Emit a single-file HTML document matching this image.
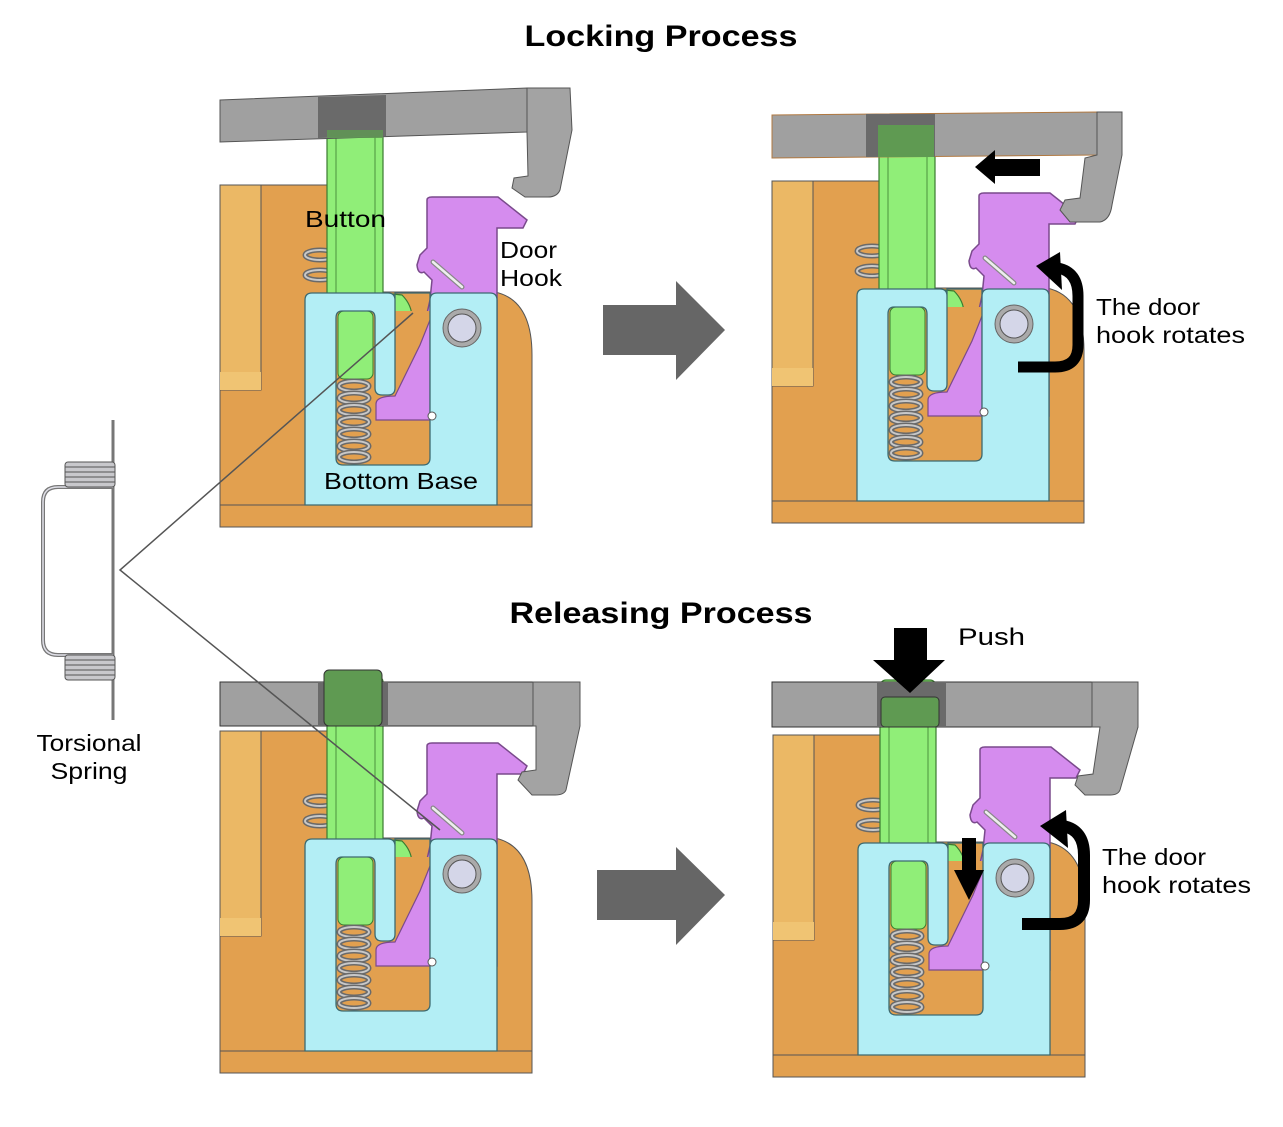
<!DOCTYPE html>
<html><head><meta charset="utf-8"><style>
html,body{margin:0;padding:0;background:#fff;}
svg{display:block;}
text{font-family:"Liberation Sans","DejaVu Sans",sans-serif;fill:#000;}
</style></head><body>
<svg width="1283" height="1127" viewBox="0 0 1283 1127" xmlns="http://www.w3.org/2000/svg">
<defs>
<g id="coil">
  <ellipse cx="0" cy="0" rx="15" ry="5" fill="none" stroke="#6a6a6a" stroke-width="5"/>
  <ellipse cx="0" cy="0" rx="15" ry="5" fill="none" stroke="#c8c8c8" stroke-width="2"/>
</g>
<g id="mech">
  <path d="M220,185 H330 V292 H495 Q532,300 532,355 V527 H220 Z" fill="#e2a04f" stroke="#555" stroke-width="1"/>
  <rect x="220" y="185" width="41" height="205" fill="#ebb865" stroke="#555" stroke-width="1"/>
  <rect x="220" y="372" width="41" height="18" fill="#f0c473"/>
  <line x1="220" y1="505" x2="532" y2="505" stroke="#555" stroke-width="1"/>
  <use href="#coil" x="320" y="255"/><use href="#coil" x="320" y="275"/>
  <path d="M427,200 Q427,197 432,197 H498 L527,220 L523,228 H497 V420 H384 Q376,420 376,408 V400 Q378,396 395,396 L420,345 L430,300 L432,280 L424,272 Q418,275 417,265 L420,255 L427,248 Z" fill="#d58cee" stroke="#7a4a8c" stroke-width="1.5"/>
  <line x1="433" y1="262" x2="462" y2="287" stroke="#888" stroke-width="5" stroke-linecap="round"/>
  <line x1="433" y1="262" x2="462" y2="287" stroke="#eee" stroke-width="2.5" stroke-linecap="round"/>
  <rect x="327" y="130" width="56" height="175" rx="6" fill="#90ee78" stroke="#3a7a30" stroke-width="1.2"/>
  <line x1="336" y1="132" x2="336" y2="300" stroke="#3a7a30" stroke-width="0.8"/>
  <line x1="375" y1="132" x2="375" y2="300" stroke="#3a7a30" stroke-width="0.8"/>
  <path d="M383,293 L402,295 Q412,305 412,318 V350 Q412,358 402,358 H383 Z" fill="#90ee78" stroke="#3a7a30" stroke-width="1.2"/>
  <rect x="336" y="311" width="94" height="154" fill="#e2a04f"/>
  <rect x="338" y="311" width="35" height="68" rx="6" fill="#90ee78" stroke="#3a7a30" stroke-width="1"/>
  <use href="#coil" x="354" y="386"/><use href="#coil" x="354" y="398"/><use href="#coil" x="354" y="410"/>
  <use href="#coil" x="354" y="422"/><use href="#coil" x="354" y="434"/><use href="#coil" x="354" y="446"/><use href="#coil" x="354" y="457"/>
  <path d="M376,420 V404 Q376,396 395,396 L420,345 L430,320 V420 Z" fill="#d58cee" stroke="#7a4a8c" stroke-width="1.2"/>
  <path fill-rule="evenodd" d="M312,293 H388 Q395,293 395,300 V293 H430 V300 Q430,293 437,293 H490 Q497,293 497,300 V505 H305 V300 Q305,293 312,293 Z M342,311 H369 Q375,311 375,318 V388 Q375,395 382,395 H388 Q395,395 395,388 V293 H430 V458 Q430,465 423,465 H343 Q336,465 336,458 V318 Q336,311 342,311 Z" fill="#b3eef5" stroke="#3d6a70" stroke-width="1.3"/>
  <circle cx="432" cy="416" r="4" fill="#fff" stroke="#555"/>
  <circle cx="462" cy="328" r="19" fill="#aaa" stroke="#666"/>
  <circle cx="462" cy="328" r="14" fill="#d4d6e8" stroke="#555"/>
</g>
</defs>

<text x="661" y="46" text-anchor="middle" font-size="30" font-weight="bold" textLength="273" lengthAdjust="spacingAndGlyphs">Locking Process</text>
<text x="661" y="623" text-anchor="middle" font-size="30" font-weight="bold" textLength="303" lengthAdjust="spacingAndGlyphs">Releasing Process</text>

<!-- Top-left panel -->
<use href="#mech"/>
<path d="M220,100 L527,88 V132 L220,142 Z" fill="#a0a0a0" stroke="#555"/>
<path d="M318,97 L386,95 V136 L318,138 Z" fill="#6a6a6a"/>
<rect x="327" y="130" width="56" height="8" fill="#5f9a52" opacity="0.8"/>
<path d="M527,88 H570 L572,130 L560,190 Q557,197 548,197 H525 L512,188 L514,178 L528,176 L527,132 Z" fill="#a3a3a3" stroke="#555"/>
<text x="305" y="227" font-size="23" textLength="81" lengthAdjust="spacingAndGlyphs">Button</text>
<text x="500" y="258" font-size="23" textLength="57" lengthAdjust="spacingAndGlyphs">Door</text>
<text x="500" y="286" font-size="23" textLength="62" lengthAdjust="spacingAndGlyphs">Hook</text>
<text x="324" y="489" font-size="23" textLength="154" lengthAdjust="spacingAndGlyphs">Bottom Base</text>

<!-- Top-right panel -->
<use href="#mech" transform="translate(552,-4)"/>
<path d="M772,115 L1097,112 V155 L772,158 Z" fill="#a0a0a0" stroke="#b07840"/>
<rect x="866" y="114" width="69" height="43" fill="#6a6a6a"/>
<rect x="878" y="125" width="56" height="32" fill="#5f9a52"/>
<path d="M1097,112 H1122 V155 L1112,205 Q1110,220 1100,222 H1070 L1060,210 L1065,200 L1080,198 L1085,158 L1097,155 Z" fill="#a3a3a3" stroke="#555"/>
<polygon points="975,167 995,150 995,159 1040,159 1040,176 995,176 995,184" fill="#000"/>
<path d="M1018,367 H1055 Q1078,367 1078,345 V296 Q1078,272 1058,268" fill="none" stroke="#000" stroke-width="11"/>
<polygon points="1036,266 1060,252 1062,290" fill="#000"/>
<text x="1096" y="315" font-size="23" textLength="104" lengthAdjust="spacingAndGlyphs">The door</text>
<text x="1096" y="343" font-size="23" textLength="149" lengthAdjust="spacingAndGlyphs">hook rotates</text>

<polygon points="603,305 676,305 676,281 725,330 676,380 676,355 603,355" fill="#666"/>
<polygon points="597,870 676,870 676,847 725,895 676,945 676,920 597,920" fill="#666"/>

<!-- Bottom-left panel -->
<use href="#mech" transform="translate(0,546)"/>
<rect x="220" y="682" width="313" height="44" fill="#a0a0a0" stroke="#333"/>
<rect x="318" y="682" width="70" height="44" fill="#6a6a6a"/>
<rect x="324" y="670" width="58" height="56" rx="5" fill="#5f9a52" stroke="#333"/>
<path d="M533,682 H580 V726 L566,790 Q564,795 555,795 H532 L518,780 L522,772 L536,770 V726 H533 Z" fill="#a3a3a3" stroke="#555"/>

<!-- Bottom-right panel -->
<use href="#mech" transform="translate(553,550)"/>
<rect x="772" y="682" width="366" height="45" fill="#a0a0a0" stroke="#333"/>
<rect x="877" y="682" width="69" height="45" fill="#6a6a6a"/>
<rect x="881" y="697" width="58" height="30" rx="4" fill="#5f9a52" stroke="#333"/>
<path d="M1092,682 H1138 V727 L1120,790 Q1118,795 1110,795 H1085 L1075,785 L1078,776 L1093,774 L1100,727 L1092,727 Z" fill="#a3a3a3" stroke="#555"/>
<polygon points="894,628 927,628 927,660 945,660 910,693 873,660 894,660" fill="#000"/>
<rect x="962" y="838" width="14" height="35" fill="#000"/>
<polygon points="954,870 984,870 969,900" fill="#000"/>
<path d="M1022,924 H1060 Q1084,924 1084,900 V855 Q1084,830 1063,826" fill="none" stroke="#000" stroke-width="12"/>
<polygon points="1040,826 1066,810 1068,848" fill="#000"/>
<text x="958" y="645" font-size="24" textLength="67" lengthAdjust="spacingAndGlyphs">Push</text>
<text x="1102" y="865" font-size="23" textLength="104" lengthAdjust="spacingAndGlyphs">The door</text>
<text x="1102" y="893" font-size="23" textLength="149" lengthAdjust="spacingAndGlyphs">hook rotates</text>

<!-- Torsional spring -->
<g stroke="#777" fill="none">
  <line x1="113" y1="420" x2="113" y2="720" stroke-width="3"/>
  <path d="M113,487 H58 Q43,487 43,502 V640 Q43,655 58,655 H113" stroke-width="4"/>
  <path d="M113,487 H58 Q43,487 43,502 V640 Q43,655 58,655 H113" stroke="#e0e0e8" stroke-width="1.5"/>
</g>
<g fill="#c8c8cc" stroke="#555" stroke-width="1">
  <rect x="65" y="462" width="50" height="25" rx="3"/>
  <rect x="65" y="655" width="50" height="25" rx="3"/>
</g>
<g stroke="#555" stroke-width="1">
  <line x1="65" y1="467" x2="115" y2="467"/><line x1="65" y1="472" x2="115" y2="472"/><line x1="65" y1="477" x2="115" y2="477"/><line x1="65" y1="482" x2="115" y2="482"/>
  <line x1="65" y1="660" x2="115" y2="660"/><line x1="65" y1="665" x2="115" y2="665"/><line x1="65" y1="670" x2="115" y2="670"/><line x1="65" y1="675" x2="115" y2="675"/>
</g>
<text x="89" y="751" text-anchor="middle" font-size="23" textLength="105" lengthAdjust="spacingAndGlyphs">Torsional</text>
<text x="89" y="779" text-anchor="middle" font-size="23" textLength="77" lengthAdjust="spacingAndGlyphs">Spring</text>

<polyline points="413,313 120,570 440,830" fill="none" stroke="#555" stroke-width="1.5"/>
</svg>
</body></html>
